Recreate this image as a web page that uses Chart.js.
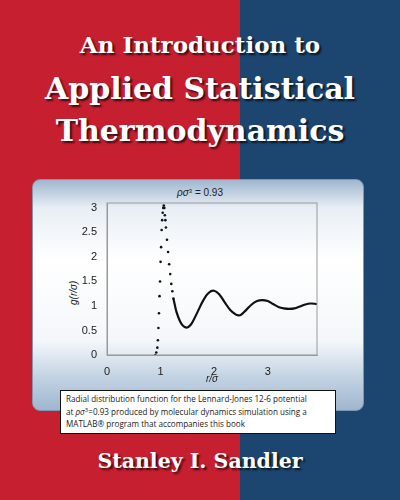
<!DOCTYPE html>
<html>
<head>
<meta charset="utf-8">
<script src="https://cdn.jsdelivr.net/npm/chart.js@4"></script>
<style>
  body { margin: 0; width: 400px; height: 500px; overflow: hidden; position: relative;
         background: linear-gradient(to right, #c61f30 0, #c61f30 240px, #1c4670 240px, #1c4670 400px); }
  .t { position: absolute; left: 0; width: 400px; text-align: center; color: #fff;
       font-family: "DejaVu Serif", "Liberation Serif", serif; font-weight: bold;
       text-shadow: 2px 2px 2px rgba(0,0,0,0.7); }
  .panel { position: absolute; left: 32px; top: 179px; width: 330px; height: 230px; border-radius: 8px;
           background: linear-gradient(to bottom, #9fb6cf 0%, #e8eef5 12%, #ffffff 35%, #f4f7fa 70%, #c5d4e4 85%, #9fb6cf 100%);
           border: 1px solid #7f97b3; }
  .cap { position: absolute; left: 60px; top: 390px; width: 264px; height: 38px; background: #fff;
         border: 1.5px solid #111; padding: 2px 5px; font-family: "Open Sans", sans-serif; font-size: 8.1px;
         line-height: 12.5px; color: #222; }
  sup { font-size: 6px; line-height: 0; vertical-align: 3px; }
  .ptitle { position: absolute; left: 0; width: 400px; top: 187px; text-align: center;
            font-family: "Liberation Sans", Arial, sans-serif; font-size: 10px; color: #222; }
  .ylab { position: absolute; transform: rotate(-90deg); transform-origin: left top;
          font-family: "Liberation Sans", Arial, sans-serif; font-size: 10px; font-style: italic; color: #222; }
  canvas { position: absolute; }
</style>
</head>
<body>
<div class="t" style="top:31px;font-size:23px">An Introduction to</div>
<div class="t" style="top:71px;font-size:30px">Applied Statistical</div>
<div class="t" style="top:113px;font-size:30px">Thermodynamics</div>
<div class="panel"></div>
<div class="ptitle"><i>ρσ</i><sup>3</sup> = 0.93</div>
<div class="ylab" style="top:305px;left:68px">g(r/σ)</div>
<div id="wrap" style="position:absolute;left:70px;top:185px;width:262px;height:200px"><canvas id="c"></canvas></div>
<div class="cap">Radial distribution function for the Lennard-Jones 12-6 potential<br>at <i>ρσ</i><sup>3</sup>=0.93 produced by molecular dynamics simulation using a<br>MATLAB® program that accompanies this book</div>
<div class="t" style="top:449px;font-size:20.5px">Stanley I. Sandler</div>
<script>
// rising part of the peak (sparse dots)
const rRise = [0.90, 0.92, 0.94, 0.95, 0.96, 0.97, 0.98, 0.99, 1.00, 1.01, 1.02, 1.03, 1.04, 1.05, 1.06, 1.07, 1.08, 1.09, 1.10, 1.12, 1.14, 1.16, 1.18, 1.20, 1.22, 1.24];
const gRise = [0.00, 0.05, 0.15, 0.30, 0.55, 0.85, 1.20, 1.50, 1.90, 2.20, 2.55, 2.75, 2.90, 3.00, 3.05, 3.00, 2.85, 2.75, 2.60, 2.35, 2.10, 1.85, 1.65, 1.45, 1.30, 1.15];
// dense tail (looks solid)
const rTail = [1.24, 1.27, 1.30, 1.35, 1.40, 1.45, 1.50, 1.55, 1.60, 1.70, 1.80, 1.90, 2.00, 2.10, 2.20, 2.30, 2.40, 2.45, 2.50, 2.60, 2.70, 2.80, 2.90, 3.00, 3.10, 3.20, 3.30, 3.40, 3.50, 3.60, 3.70, 3.80, 3.92];
const gTail = [1.15, 1.00, 0.87, 0.72, 0.62, 0.57, 0.56, 0.60, 0.68, 0.90, 1.12, 1.27, 1.31, 1.23, 1.07, 0.92, 0.83, 0.81, 0.82, 0.92, 1.03, 1.10, 1.12, 1.10, 1.04, 0.98, 0.95, 0.94, 0.95, 0.99, 1.03, 1.05, 1.04];
const xTicks = [0, 1, 2, 3];
const yTicks = [0, 0.5, 1, 1.5, 2, 2.5, 3];

const pts = (xs, ys) => xs.map((x, i) => ({ x: x, y: ys[i] }));
const tickFont = { family: "Liberation Sans, Arial, sans-serif", size: 11 };

new Chart(document.getElementById("c"), {
  type: "scatter",
  data: {
    datasets: [
      { data: pts(rRise, gRise), pointRadius: 1.3, pointBackgroundColor: "#111", pointBorderWidth: 0 },
      { data: pts(rTail, gTail), showLine: true, borderColor: "#111", borderWidth: 2.2, pointRadius: 0, tension: 0.4 }
    ]
  },
  options: {
    responsive: true, maintainAspectRatio: false, animation: false,
    layout: { padding: { top: 18, right: 15 } },
    plugins: { legend: { display: false }, tooltip: { enabled: false } },
    scales: {
      x: {
        type: "linear", min: 0, max: 3.92,
        afterBuildTicks: (a) => { a.ticks = xTicks.map((v) => ({ value: v })); },
        afterFit: (a) => { a.height = 30; },
        grid: { display: false },
        border: { color: "#999" },
        ticks: { font: tickFont, color: "#222", padding: 2, callback: (v) => String(v) },
        title: { display: true, text: "r/σ", font: { family: "Liberation Sans, Arial, sans-serif", size: 10, style: "italic" }, color: "#222", padding: 0 }
      },
      y: {
        min: 0, max: 3.1,
        afterBuildTicks: (a) => { a.ticks = yTicks.map((v) => ({ value: v })); },
        afterFit: (a) => { a.width = 37; },
        grid: { display: false },
        border: { color: "#999" },
        ticks: { font: tickFont, color: "#222", padding: 2, callback: (v) => String(v) }
      }
    }
  },
  plugins: [{
    id: "box",
    afterDraw(chart) {
      const { ctx, chartArea: a } = chart;
      ctx.save();
      ctx.strokeStyle = "#999";
      ctx.lineWidth = 1;
      ctx.strokeRect(a.left, a.top, a.right - a.left, a.bottom - a.top);
      ctx.restore();
    }
  }]
});
</script>
</body>
</html>
